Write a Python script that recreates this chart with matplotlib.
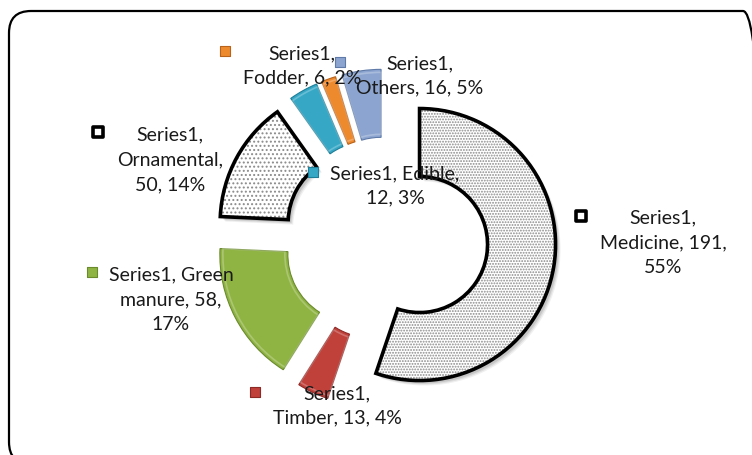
import matplotlib
matplotlib.use("Agg")
import matplotlib.pyplot as plt
from matplotlib.patches import FancyBboxPatch

plt.rcParams['font.family'] = ['Lato', 'DejaVu Sans']
plt.rcParams['hatch.linewidth'] = 0.9

# ---- data ----
series_name = "Series1"
categories = ["Medicine", "Timber", "Green manure", "Ornamental", "Edible", "Fodder", "Others"]
values = [191, 13, 58, 50, 12, 6, 16]
percents = ["55%", "4%", "17%", "14%", "3%", "2%", "5%"]

# ---- styles / layout ----
face_colors = ["white", "#C0403A", "#8FB443", "white", "#36A8C6", "#EE8A2E", "#8CA5D0"]
hatches = ["......", None, None, "....", None, None, None]
outline = ["black", "none", "none", "black", "none", "none", "none"]
edge_thin = ["#9a9a9a", "#8E2A26", "#6A8A2C", "#9a9a9a", "#1E7E98", "#B8621A", "#5F7AA8"]
marker_colors = ["white", "#C0403A", "#8FB443", "white", "#36A8C6", "#EE8A2E", "#8CA5D0"]
marker_edges = ["black", "#8E2A26", "#6A8A2C", "black", "#1E7E98", "#B8621A", "#5F7AA8"]

label_texts = [
    "Series1,\nMedicine, 191,\n55%",
    "Series1,\nTimber, 13, 4%",
    "Series1, Green\nmanure, 58,\n17%",
    "Series1,\nOrnamental,\n50, 14%",
    "Series1, Edible,\n12, 3%",
    "Series1,\nFodder, 6, 2%",
    "Series1,\nOthers, 16, 5%",
]
# label centres and key marker positions in pixels (y measured from top)
label_pos = [(663, 243), (337, 406), (171, 300), (170, 160), (395, 186), (302, 66), (420, 76)]
key_pos = [(581, 217), (255, 393), (92, 273), (98, 133), (313, 173), (225, 52), (340, 63)]

W, H = 752, 456
cx, cy = 386, 216
R, ring, expl = 136, 68, 34

fig = plt.figure(figsize=(W / 100, H / 100), dpi=100)
ax = fig.add_axes([0, 0, 1, 1])

# soft shadow under the outlined slices
for k, (dx, dy, a) in enumerate([(5, -5, 0.06), (4, -4, 0.08), (3, -3, 0.10)]):
    sh, _ = ax.pie(values, radius=R, center=(cx + dx, cy + dy), startangle=90, counterclock=False,
                   explode=[expl] * len(values), frame=True,
                   wedgeprops=dict(width=ring, linewidth=0))
    for w, oc in zip(sh, outline):
        if oc == "black":
            w.set_facecolor((0, 0, 0, a))
        else:
            w.set_visible(False)

# base fill with hatch
wedges, _ = ax.pie(values, radius=R, center=(cx, cy), startangle=90, counterclock=False,
                   explode=[expl] * len(values), frame=True,
                   wedgeprops=dict(width=ring, linewidth=0))
for w, fc, h, ec in zip(wedges, face_colors, hatches, edge_thin):
    w.set_facecolor(fc)
    if h:
        w.set_hatch(h)
        w.set_edgecolor("#8a8a8a")
        w.set_linewidth(0)
    else:
        w.set_edgecolor(ec)
        w.set_linewidth(0.8)

# light inner highlight for the coloured slices (bevel look)
hl, _ = ax.pie(values, radius=R - 3, center=(cx, cy), startangle=90, counterclock=False,
               explode=[expl] * len(values), frame=True,
               wedgeprops=dict(width=ring - 6, linewidth=1.2, fill=False))
for w, oc in zip(hl, outline):
    if oc == "black":
        w.set_visible(False)
    else:
        w.set_edgecolor((1, 1, 1, 0.25))

# outlines
wedges2, _ = ax.pie(values, radius=R, center=(cx, cy), startangle=90, counterclock=False,
                    explode=[expl] * len(values), frame=True,
                    wedgeprops=dict(width=ring, linewidth=2.6, fill=False))
for w, oc in zip(wedges2, outline):
    w.set_edgecolor(oc)
    w.set_joinstyle('miter')

# labels and keys
for txt, (lx, ly), (kx, ky), mc, me in zip(label_texts, label_pos, key_pos, marker_colors, marker_edges):
    ax.text(lx, H - ly, txt, ha="center", va="center", fontsize=14, color="#1a1a1a",
            linespacing=1.55)
    ax.scatter([kx], [H - ky], marker="s", s=55 if me == "black" else 60, facecolor=mc, edgecolor=me,
               linewidth=2.6 if me == "black" else 0.8, zorder=5)

ax.set_xlim(0, W)
ax.set_ylim(0, H)
ax.set_aspect('auto')
ax.axis("off")

# chart-area frame (its right and bottom sides fall just outside the picture)
border = FancyBboxPatch((9, -9), 756, 453,
                        boxstyle="round,pad=0,rounding_size=22",
                        transform=ax.transData, fill=False, edgecolor="black",
                        linewidth=1.6, clip_on=False)
ax.add_patch(border)

fig.savefig("out.png", dpi=100)
